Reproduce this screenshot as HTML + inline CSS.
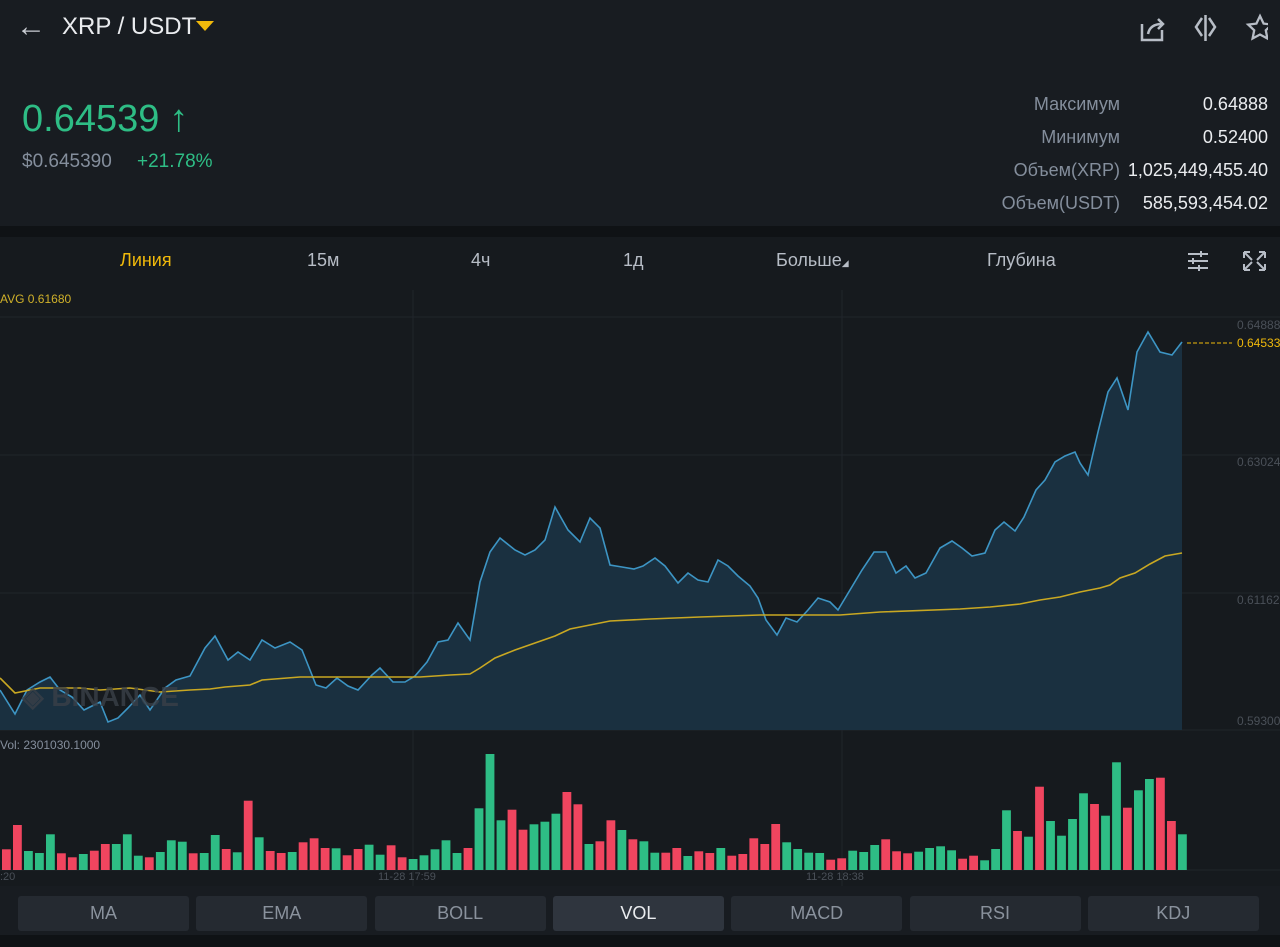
<!DOCTYPE html>
<html><head><meta charset="utf-8"><style>
body{margin:0;width:1280px;height:947px;background:#161a1e;font-family:"Liberation Sans",sans-serif;overflow:hidden;position:relative;color:#eaecef}
.a{position:absolute;white-space:nowrap}
</style></head><body>
<div class="a" style="left:0;top:0;width:1280px;height:226px;background:#181c21"></div>
<div class="a" style="left:0;top:226px;width:1280px;height:11px;background:#0f1215"></div>
<div class="a" style="left:16px;top:10px;font-size:30px;color:#c8ccd2">&#8592;</div>
<div class="a" style="left:62px;top:13px;font-size:24px;color:#eaecef">XRP / USDT</div>
<div class="a" style="left:196px;top:21px;width:0;height:0;border-left:9px solid transparent;border-right:9px solid transparent;border-top:10px solid #f0b90b"></div>
<svg class="a" style="left:1136px;top:12px" width="132" height="32">
<g fill="none" stroke="#b7bdc6" stroke-width="2.5"><path d="M6 12v16h20v-10"/><path d="M12 22 q2-10 14-10 M22 7l5 5-5 5"/>
<path d="M66 6l-6 9 6 9M73 6l6 9-6 9M69.5 3v26"/></g>
<path d="M124 4l3.6 7.6 8.2 1-6 5.7 1.6 8.2-7.4-4-7.4 4 1.6-8.2-6-5.7 8.2-1z" fill="none" stroke="#b7bdc6" stroke-width="2.3"/></svg>
<div class="a" style="left:22px;top:98px;font-size:38px;color:#2ebd85">0.64539<span style="margin-left:10px">↑</span></div>
<div class="a" style="left:22px;top:151px;font-size:19px;color:#848e9c">$0.645390</div>
<div class="a" style="left:137px;top:151px;font-size:19px;color:#2ebd85">+21.78%</div>
<div class="a" style="right:160px;top:88px;font-size:18px;color:#848e9c;text-align:right;line-height:33px">Максимум<br>Минимум<br>Объем(XRP)<br>Объем(USDT)</div>
<div class="a" style="right:12px;top:88px;font-size:18px;color:#eaecef;text-align:right;line-height:33px">0.64888<br>0.52400<br>1,025,449,455.40<br>585,593,454.02</div>
<div class="a" style="left:120px;top:250px;font-size:18px;color:#f0b90b">Линия</div>
<div class="a" style="left:307px;top:250px;font-size:18px;color:#b7bdc6">15м</div>
<div class="a" style="left:471px;top:250px;font-size:18px;color:#b7bdc6">4ч</div>
<div class="a" style="left:623px;top:250px;font-size:18px;color:#b7bdc6">1д</div>
<div class="a" style="left:776px;top:250px;font-size:18px;color:#b7bdc6">Больше<span style="font-size:9px">◢</span></div>
<div class="a" style="left:987px;top:250px;font-size:18px;color:#b7bdc6">Глубина</div>
<svg class="a" style="left:1186px;top:249px" width="84" height="24"><g stroke="#b7bdc6" stroke-width="2" fill="none"><path d="M2 5h20M2 12h20M2 19h20"/><path d="M15 2v6M7 9v6M13 16v6"/><path d="M58 3h6M58 3v6M66 11l-8-8M79 3h-6M79 3v6M71 11l8-8M58 21h6M58 21v-6M66 13l-8 8M79 21h-6M79 21v-6M71 13l8 8"/></g></svg>
<svg class="a" style="left:0;top:290px" width="1280" height="600" id="s">
<g stroke="#20252b" stroke-width="1"><path d="M0 27H1280M0 165H1280M0 303H1280M0 440H1280M0 580H1280M413 0V600M842 0V600"/></g>
</svg>
<div class="a" style="left:0;top:292px;font-size:12px;color:#d0b12a">AVG 0.61680</div>
<div class="a" style="left:1237px;top:318px;font-size:12px;color:#4a5058">0.64888</div>
<div class="a" style="left:1237px;top:336px;font-size:12px;color:#f0b90b">0.64533</div>
<div class="a" style="left:1237px;top:455px;font-size:12px;color:#4a5058">0.63024</div>
<div class="a" style="left:1237px;top:593px;font-size:12px;color:#4a5058">0.61162</div>
<div class="a" style="left:1237px;top:714px;font-size:12px;color:#4a5058">0.59300</div>
<div class="a" style="left:22px;top:680px;font-size:28px;font-weight:bold;color:#3a4048;opacity:.8">◈ BINANCE</div>
<div class="a" style="left:0;top:738px;font-size:12px;color:#848e9c">Vol: 2301030.1000</div>
<div class="a" style="left:0;top:871px;font-size:11px;color:#4a5058">:20</div>
<div class="a" style="left:378px;top:871px;font-size:11px;color:#4a5058">11-28 17:59</div>
<div class="a" style="left:806px;top:871px;font-size:11px;color:#4a5058">11-28 18:38</div>
<div class="a" style="left:0;top:886px;width:1280px;height:61px;background:#181c21"></div>
<div class="a" style="left:0;top:935px;width:1280px;height:12px;background:#0f1215"></div>
<div id="b"></div>
<script>
var s=document.getElementById('s'),o=290;
var P=[[0,690],[15,714],[27,690],[40,682],[50,677],[60,690],[72,697],[84,710],[100,702],[108,722],[118,718],[128,708],[140,695],[150,710],[165,688],[176,680],[190,676],[205,648],[215,636],[228,660],[238,652],[250,660],[262,640],[275,648],[290,642],[302,650],[316,685],[326,688],[337,678],[348,686],[358,690],[372,675],[380,668],[393,682],[405,682],[415,676],[427,662],[438,642],[448,640],[458,623],[470,640],[480,582],[490,552],[500,538],[515,550],[525,555],[535,550],[545,540],[555,507],[568,530],[580,542],[590,518],[600,528],[610,565],[622,567],[634,569],[643,566],[655,558],[665,566],[678,583],[688,573],[698,580],[708,582],[718,560],[728,566],[738,576],[750,586],[758,598],[766,620],[777,635],[786,618],[797,622],[808,610],[818,598],[830,602],[838,610],[850,590],[862,570],[874,552],[886,552],[896,573],[906,566],[915,578],[926,573],[940,548],[952,541],[962,548],[972,556],[985,553],[995,530],[1004,522],[1015,531],[1024,517],[1036,490],[1045,480],[1055,462],[1065,456],[1075,452],[1080,463],[1088,475],[1098,432],[1108,392],[1117,378],[1128,410],[1137,352],[1148,332],[1160,352],[1172,355],[1182,342]];
var A=[[0,678],[15,693],[40,688],[80,688],[100,690],[130,688],[160,692],[190,690],[210,689],[225,687],[250,685],[262,680],[300,677],[335,677],[380,677],[420,677],[450,675],[470,674],[480,668],[495,658],[515,650],[535,643],[555,636],[570,629],[590,625],[610,621],[650,619],[700,617],[760,615],[840,615],[880,612],[960,609],[990,607],[1020,604],[1040,600],[1060,597],[1080,592],[1100,588],[1110,585],[1120,578],[1135,573],[1150,564],[1165,556],[1182,553]];
function pts(a){return a.map(p=>p[0]+','+(p[1]-o)).join(' ')}
var h='<polygon points="0,'+(730-o)+' '+pts(P)+' 1182,'+(730-o)+'" fill="#1a3040"/>';
h+='<polyline points="'+pts(P)+'" fill="none" stroke="#3d95c4" stroke-width="1.6"/>';
h+='<polyline points="'+pts(A)+'" fill="none" stroke="#c9a822" stroke-width="1.6"/>';
h+='<path d="M1187 '+(343-o)+'H1232" stroke="#f0b90b" stroke-dasharray="4,2"/>';
var V="358r285r363g369g313g370r382r372g362r342r342g313g377g382r366g331g335g370r369g315g357r367g212r322g363r369r366g337r325r354r355g376r357r344g374g346r382r387g376g358g331g369g354r235g72g271g239r299r283g275g251g186r223r342g334r271r300g328r334g368g368r354r378g364r369r354g377r372r325r342r282r337g357g368g369g389r385r362g366g345g328r364r370r365g354g349g361g386r377r391g357g241g303r320g170r273g317g267g190g222r257g97g233r181g147g143r273r313g";
var re=/(\d+)([rg])/g,m,arr=[];
while(m=re.exec(V))arr.push([+m[1],m[2]]);
var n=arr.length,st=(1178-2)/(n-1);
arr.forEach((a,i)=>{var t=730+a[0]/3-o,x=2+i*st;h+='<rect x="'+x.toFixed(1)+'" y="'+t.toFixed(1)+'" width="8.8" height="'+(870-o-t).toFixed(1)+'" fill="'+(a[1]=='r'?'#f0455f':'#2ebd85')+'"/>';});
s.innerHTML+=h;
var L=['MA','EMA','BOLL','VOL','MACD','RSI','KDJ'],b='';
L.forEach((n,k)=>{var x=18+k*178.3;b+='<div class="a" style="left:'+x+'px;top:896px;width:171px;height:35px;border-radius:3px;background:'+(k==3?'#2f353e':'#252a31')+';color:'+(k==3?'#eaecef':'#8a929d')+';font-size:18px;text-align:center;line-height:35px">'+n+'</div>'});
document.getElementById('b').innerHTML=b;
</script>
</body></html>
